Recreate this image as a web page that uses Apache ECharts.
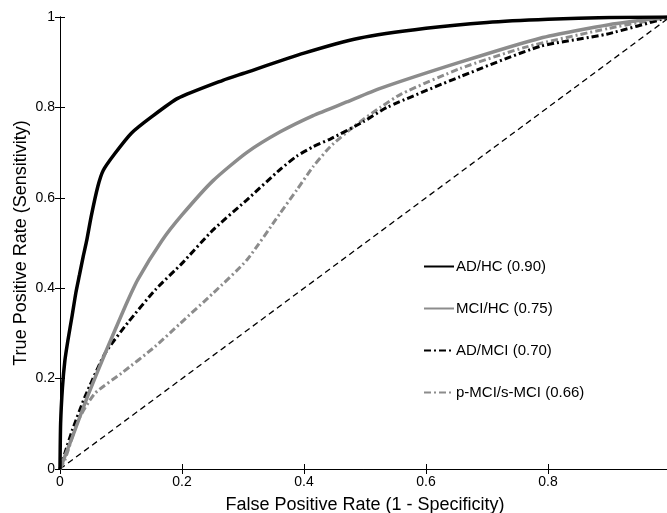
<!DOCTYPE html>
<html>
<head>
<meta charset="UTF-8">
<title>ROC curves</title>
<script type="text/javascript" src="https://cdn.jsdelivr.net/npm/echarts/dist/echarts.min.js"></script>
<style type="text/css">
    html,body{margin:0;padding:0;background:#fff;}
    #roc_chart{width:667px;height:513px;}
</style>
</head>
<body>
<div id="roc_chart"></div>
<script>
// ROC curves: false positive rate (x) / true positive rate (y)
var adhcX = [0, 0.001, 0.004, 0.008, 0.013, 0.02, 0.026, 0.032, 0.038, 0.044, 0.051, 0.062, 0.071, 0.09, 0.117, 0.15, 0.193, 0.267, 0.3, 0.4, 0.49, 0.6, 0.7, 0.8, 0.9, 1];
var adhcY = [0, 0.1, 0.18, 0.24, 0.285, 0.34, 0.39, 0.43, 0.47, 0.507, 0.558, 0.625, 0.661, 0.698, 0.743, 0.779, 0.82, 0.86, 0.875, 0.92, 0.953, 0.975, 0.988, 0.995, 0.999, 1];

var mcihcX = [0, 0.02, 0.045, 0.074, 0.107, 0.128, 0.167, 0.2, 0.251, 0.306, 0.361, 0.415, 0.47, 0.525, 0.656, 0.787, 0.9, 1];
var mcihcY = [0, 0.07, 0.16, 0.256, 0.36, 0.42, 0.505, 0.562, 0.638, 0.7, 0.746, 0.782, 0.812, 0.842, 0.9, 0.953, 0.983, 1];

var admciX = [0, 0.008, 0.02, 0.041, 0.074, 0.112, 0.156, 0.2, 0.251, 0.306, 0.361, 0.388, 0.415, 0.443, 0.497, 0.536, 0.656, 0.787, 0.896, 1];
var admciY = [0, 0.035, 0.085, 0.16, 0.256, 0.325, 0.396, 0.455, 0.529, 0.595, 0.663, 0.692, 0.713, 0.73, 0.768, 0.8, 0.868, 0.935, 0.962, 1];

var pmciX = [0, 0.008, 0.03, 0.057, 0.101, 0.156, 0.197, 0.251, 0.306, 0.361, 0.388, 0.415, 0.443, 0.481, 0.525, 0.56, 0.656, 0.765, 0.9, 1];
var pmciY = [0, 0.02, 0.108, 0.167, 0.212, 0.271, 0.322, 0.389, 0.462, 0.566, 0.617, 0.669, 0.713, 0.757, 0.8, 0.83, 0.886, 0.934, 0.975, 1];

var chanceX = [0, 1];
var chanceY = [0, 1];

var seriesNames = ['AD/HC (0.90)', 'MCI/HC (0.75)', 'AD/MCI (0.70)', 'p-MCI/s-MCI (0.66)'];
var xTicks = [0, 0.2, 0.4, 0.6, 0.8];
var yTicks = [0, 0.2, 0.4, 0.6, 0.8, 1];

function pairs(xs, ys) {
    var out = [];
    for (var i = 0; i < xs.length; i++) {
        out.push([xs[i], ys[i]]);
    }
    return out;
}

var fontName = '"Liberation Sans", Arial, Helvetica, sans-serif';
var gray = '#8c8c8c';
var dashDot = [7, 3, 2, 3];

var myChart = echarts.init(document.getElementById('roc_chart'));
var option = {
    animation: false,
    backgroundColor: '#fff',
    textStyle: { fontFamily: fontName },
    grid: { left: 60, top: 17, width: 610, height: 452, containLabel: false, outerBoundsMode: 'none' },
    legend: {
        data: seriesNames,
        orient: 'vertical',
        left: 423,
        top: 259,
        padding: 0,
        itemWidth: 30,
        itemHeight: 14,
        itemGap: 27,
        itemStyle: { opacity: 0 },
        textStyle: { fontSize: 15, color: '#000', fontFamily: fontName, padding: [0, 0, 0, -3] }
    },
    xAxis: [
        {
            type: 'value', min: 0, max: 1, interval: 0.2,
            name: 'False Positive Rate (1 - Specificity)',
            nameLocation: 'middle', nameGap: 27, nameMoveOverlap: false,
            nameTextStyle: { fontSize: 18, color: '#000', fontFamily: fontName },
            axisLine: { lineStyle: { color: '#000', width: 1 } },
            axisTick: { inside: true, length: 5, lineStyle: { color: '#000' } },
            axisLabel: {
                margin: 6, fontSize: 14, color: '#000', fontFamily: fontName,
                formatter: function (v) { var r = Math.round(v * 10) / 10; return xTicks.indexOf(r) >= 0 ? String(r) : ''; }
            },
            splitLine: { show: false }
        },
        {
            type: 'value', min: 0, max: 1, interval: 0.2, position: 'top',
            axisLine: { show: true, lineStyle: { color: '#000', width: 1 } },
            axisTick: { inside: true, length: 5, lineStyle: { color: '#000' } },
            axisLabel: { show: false },
            splitLine: { show: false }
        }
    ],
    yAxis: [
        {
            type: 'value', min: 0, max: 1, interval: 0.2,
            name: 'True Positive Rate (Sensitivity)',
            nameLocation: 'middle', nameGap: 30, nameMoveOverlap: false,
            nameTextStyle: { fontSize: 18, color: '#000', fontFamily: fontName },
            axisLine: { show: true, lineStyle: { color: '#000', width: 1 } },
            axisTick: { show: true, inside: true, length: 5, lineStyle: { color: '#000' } },
            axisLabel: {
                margin: 5, fontSize: 14, color: '#000', fontFamily: fontName,
                formatter: function (v) { var r = Math.round(v * 10) / 10; return yTicks.indexOf(r) >= 0 ? String(r) : ''; }
            },
            splitLine: { show: false }
        },
        {
            type: 'value', min: 0, max: 1, interval: 0.2, position: 'right',
            axisLine: { show: true, lineStyle: { color: '#000', width: 1 } },
            axisTick: { show: true, inside: true, length: 5, lineStyle: { color: '#000' } },
            axisLabel: { show: false },
            splitLine: { show: false }
        }
    ],
    series: [
        {
            name: 'chance', type: 'line', symbol: 'none', silent: true,
            data: pairs(chanceX, chanceY),
            lineStyle: { color: '#000', width: 1.3, type: [6, 4] }
        },
        {
            name: seriesNames[3], type: 'line', symbol: 'none', smooth: 0.2,
            data: pairs(pmciX, pmciY),
            itemStyle: { color: gray },
            lineStyle: { color: gray, width: 3, type: dashDot }
        },
        {
            name: seriesNames[2], type: 'line', symbol: 'none', smooth: 0.2,
            data: pairs(admciX, admciY),
            itemStyle: { color: '#000' },
            lineStyle: { color: '#000', width: 3, type: dashDot }
        },
        {
            name: seriesNames[1], type: 'line', symbol: 'none', smooth: 0.2,
            data: pairs(mcihcX, mcihcY),
            itemStyle: { color: gray },
            lineStyle: { color: gray, width: 3.5 }
        },
        {
            name: seriesNames[0], type: 'line', symbol: 'none', smooth: 0.2,
            data: pairs(adhcX, adhcY),
            itemStyle: { color: '#000' },
            lineStyle: { color: '#000', width: 3.5 }
        }
    ]
};
if (option && typeof option === 'object') {
    myChart.setOption(option);
}
</script>
</body>
</html>
